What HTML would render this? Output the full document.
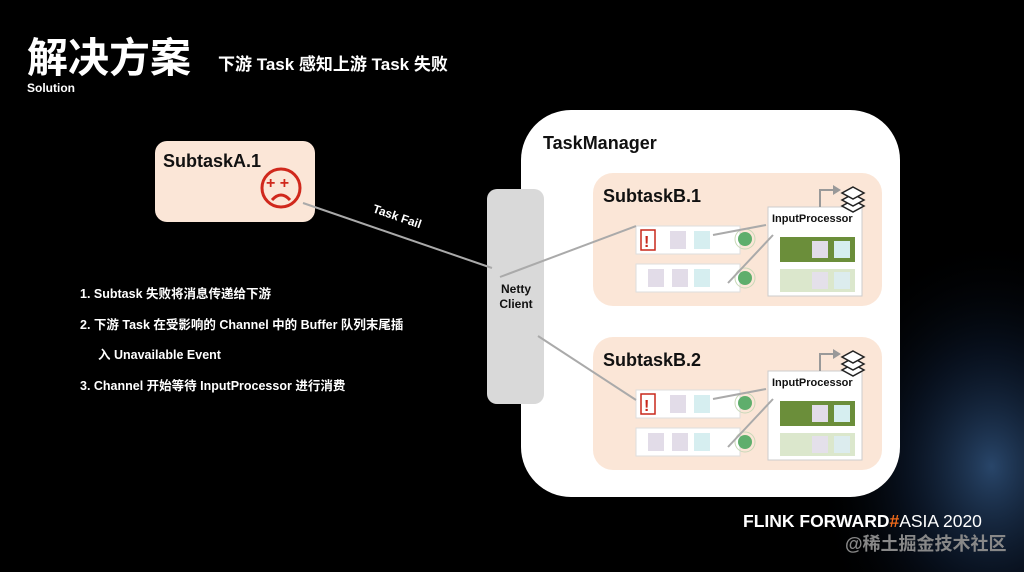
<!DOCTYPE html>
<html><head><meta charset="utf-8"><style>
html,body{margin:0;padding:0;background:#000;width:1024px;height:572px;overflow:hidden}
svg{display:block}
text{font-family:"Liberation Sans","Noto Sans CJK SC",sans-serif;font-weight:bold}
</style></head><body>
<svg width="1024" height="572" viewBox="0 0 1024 572" xmlns="http://www.w3.org/2000/svg">
<defs>
<radialGradient id="glow" cx="0.9" cy="0.75" r="0.55">
<stop offset="0" stop-color="#4a7fc0" stop-opacity="0.55"/>
<stop offset="0.5" stop-color="#1a3560" stop-opacity="0.3"/>
<stop offset="1" stop-color="#000" stop-opacity="0"/>
</radialGradient>
<g id="sub">
<rect x="0" y="0" width="289" height="133" rx="20" fill="#fbe6d7"/>
<rect x="43" y="53" width="104" height="28" fill="#fff" stroke="#ddd"/>
<rect x="43" y="91" width="104" height="28" fill="#fff" stroke="#ddd"/>
<rect x="48" y="57" width="14" height="20" fill="#fff" stroke="#c8281c" stroke-width="1.5"/>
<text x="51" y="74" font-size="16" fill="#c8281c">!</text>
<rect x="77" y="58" width="16" height="18" fill="#e2dce8"/>
<rect x="101" y="58" width="16" height="18" fill="#d6eef0"/>
<rect x="55" y="96" width="16" height="18" fill="#e2dce8"/>
<rect x="79" y="96" width="16" height="18" fill="#e2dce8"/>
<rect x="101" y="96" width="16" height="18" fill="#d6eef0"/>
<circle cx="152" cy="66" r="10" fill="none" stroke="#c9d8b8"/>
<circle cx="152" cy="66" r="7" fill="#5fae6c"/>
<circle cx="152" cy="105" r="10" fill="none" stroke="#c9d8b8"/>
<circle cx="152" cy="105" r="7" fill="#5fae6c"/>
<rect x="175" y="34" width="94" height="89" fill="#fff" stroke="#ccc"/>
<text x="179" y="49" font-size="11" fill="#111">InputProcessor</text>
<rect x="187" y="64" width="75" height="25" fill="#6b8e3a"/>
<rect x="219" y="68" width="16" height="17" fill="#e2dce8"/>
<rect x="241" y="68" width="16" height="17" fill="#d6eef0"/>
<rect x="187" y="96" width="75" height="23" fill="#dbe7cc"/>
<rect x="219" y="99" width="16" height="17" fill="#e4e0ea"/>
<rect x="241" y="99" width="16" height="17" fill="#dcecee"/>
<polyline points="227,34 227,17 243,17" fill="none" stroke="#999" stroke-width="2"/>
<polygon points="248,17 240,12 240,22" fill="#999"/>
<g fill="#fff" stroke="#222" stroke-width="1.5">
<polygon points="260,27 271,33 260,39 249,33"/>
<polygon points="260,21 271,27 260,33 249,27"/>
<polygon points="260,14 271,20 260,26 249,20"/>
</g>
<line x1="120" y1="62" x2="173" y2="52" stroke="#aaa" stroke-width="2"/>
<line x1="135" y1="110" x2="180" y2="62" stroke="#aaa" stroke-width="2"/>
</g>
</defs>
<rect width="1024" height="572" fill="#000"/>
<rect x="700" y="150" width="324" height="422" fill="url(#glow)"/>
<text x="27" y="72" font-size="41" fill="#fff">解决方案</text>
<text x="218" y="70" font-size="17" fill="#fff">下游 Task 感知上游 Task 失败</text>
<text x="27" y="92" font-size="12" fill="#fff">Solution</text>

<rect x="155" y="141" width="160" height="81" rx="12" fill="#fbe6d7"/>
<text x="163" y="167" font-size="18" fill="#111">SubtaskA.1</text>
<circle cx="281" cy="188" r="19" fill="none" stroke="#d0281c" stroke-width="3"/>
<text x="266" y="188" font-size="16" fill="#d0281c">+ +</text>
<path d="M272,200 Q281,190 290,200" fill="none" stroke="#d0281c" stroke-width="3"/>

<rect x="521" y="110" width="379" height="387" rx="50" fill="#fff"/>
<text x="543" y="149" font-size="18" fill="#111">TaskManager</text>
<rect x="487" y="189" width="57" height="215" rx="10" fill="#d9d9d9"/>
<text x="516" y="293" font-size="12" fill="#111" text-anchor="middle">Netty</text>
<text x="516" y="308" font-size="12" fill="#111" text-anchor="middle">Client</text>

<use href="#sub" x="593" y="173"/>
<use href="#sub" x="593" y="337"/>
<text x="603" y="202" font-size="18" fill="#111">SubtaskB.1</text>
<text x="603" y="366" font-size="18" fill="#111">SubtaskB.2</text>

<line x1="303" y1="203" x2="492" y2="268" stroke="#aaa" stroke-width="2"/>
<text x="372" y="212" font-size="12" fill="#fff" transform="rotate(19 372 212)">Task Fail</text>
<line x1="500" y1="277" x2="636" y2="226" stroke="#aaa" stroke-width="2"/>
<line x1="538" y1="336" x2="636" y2="400" stroke="#aaa" stroke-width="2"/>

<g font-size="12.5" fill="#fff">
<text x="80" y="298">1.  Subtask 失败将消息传递给下游</text>
<text x="80" y="329">2.  下游 Task 在受影响的 Channel 中的 Buffer 队列末尾插</text>
<text x="98" y="359">入 Unavailable Event</text>
<text x="80" y="390">3.  Channel 开始等待 InputProcessor 进行消费</text>
</g>
<text x="743" y="527" font-size="17.5" fill="#fff">FLINK FORWARD<tspan fill="#f06a1a">#</tspan><tspan font-weight="normal">ASIA 2020</tspan></text>
<text x="845" y="550" font-size="18" fill="#888" font-weight="normal">@稀土掘金技术社区</text>
</svg>
</body></html>
